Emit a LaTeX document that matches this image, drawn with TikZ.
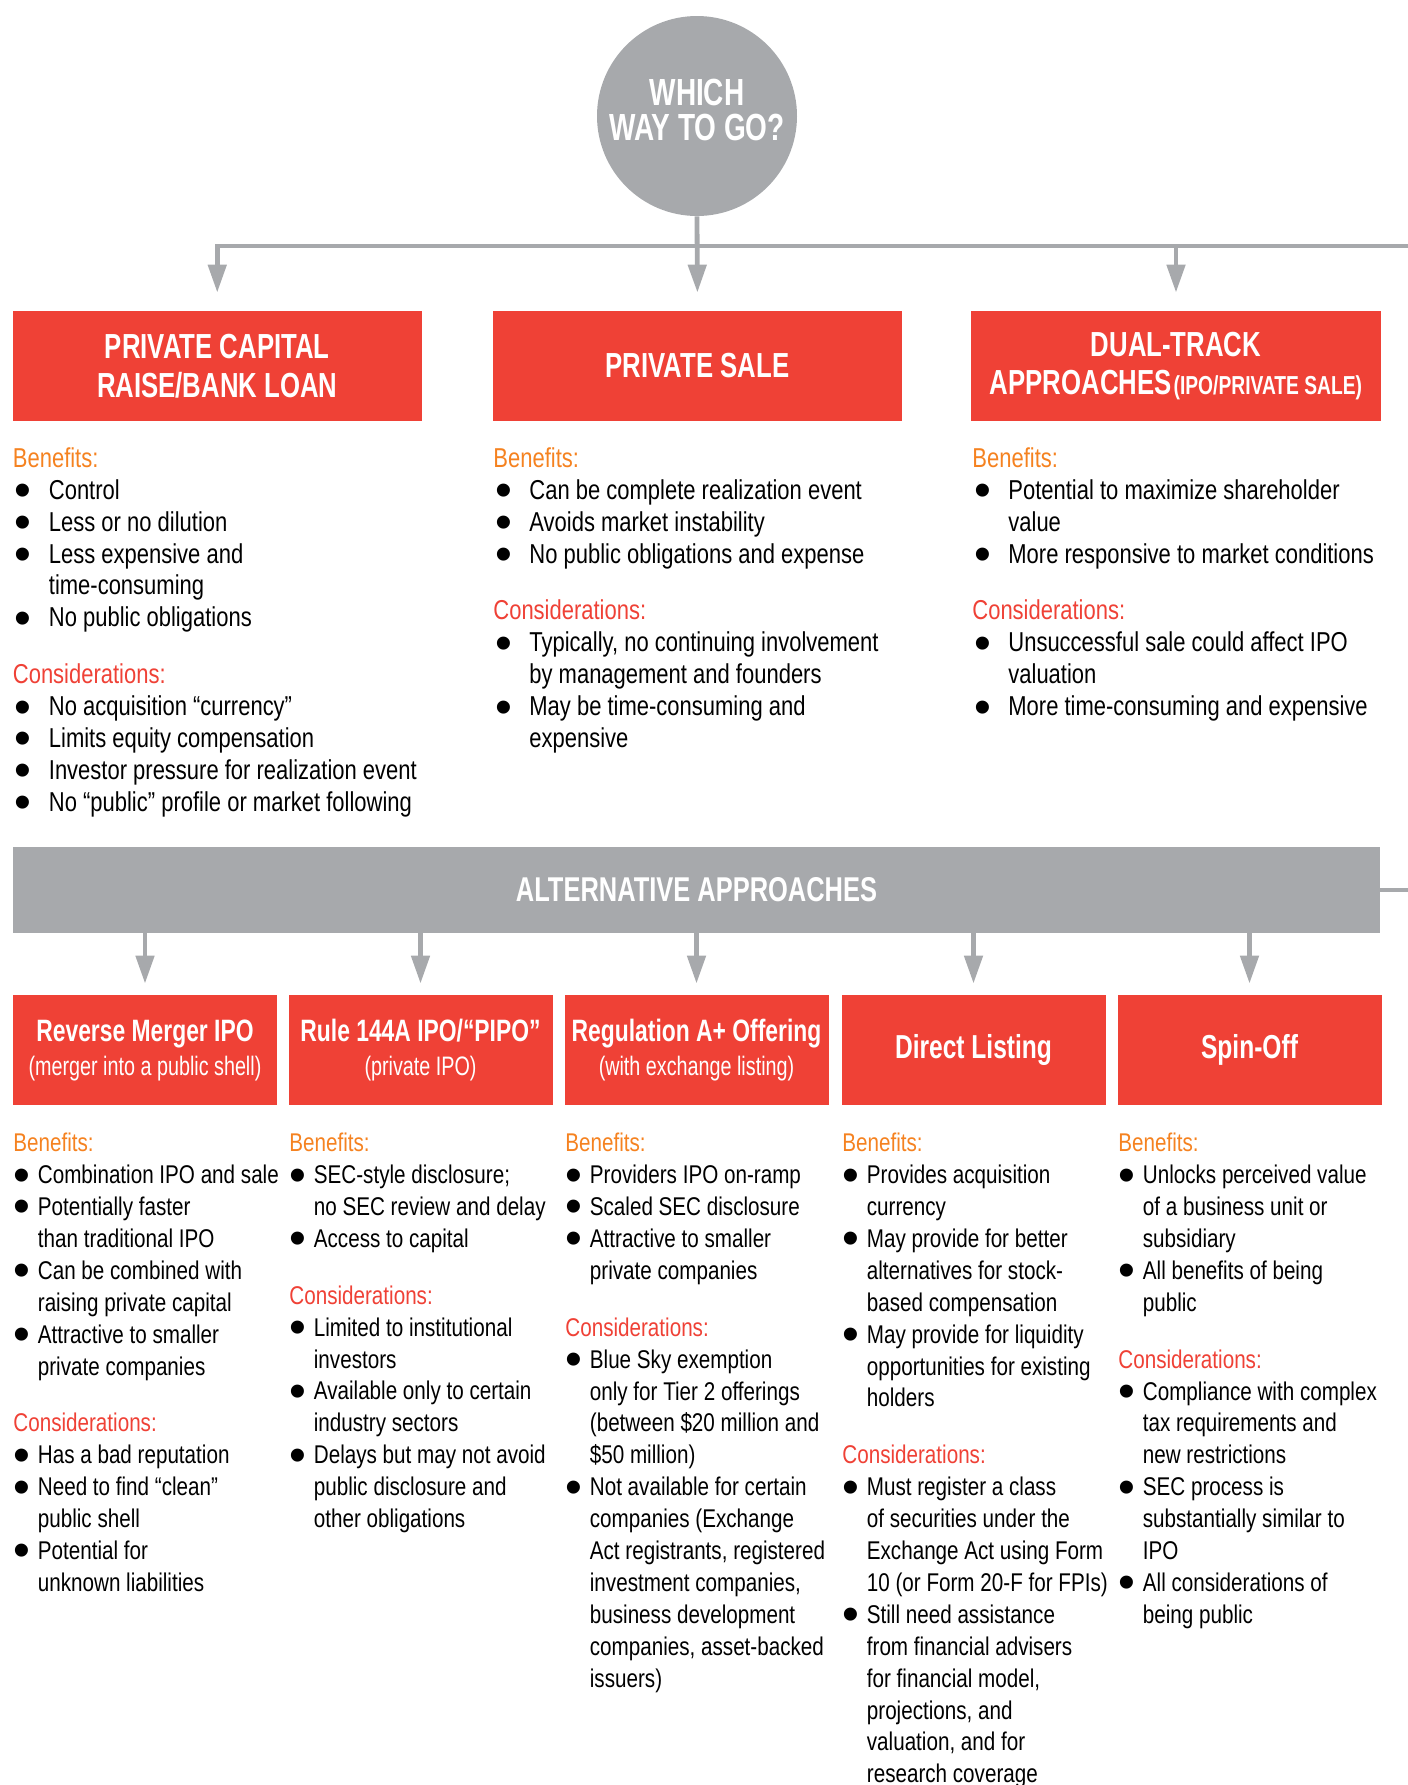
\documentclass[tikz,border=0pt]{standalone}
\usepackage{fontspec}
\setmainfont{Liberation Sans}[FakeStretch=0.805]
\newfontfamily\headfont{Liberation Sans}[FakeStretch=0.74]
\newfontfamily\bulfont{Liberation Sans}
\usetikzlibrary{arrows.meta}

\definecolor{boxred}{HTML}{EF4136}
\definecolor{bargray}{HTML}{A7A9AC}
\definecolor{benorange}{HTML}{F58220}

\newlength\indw
\newlength\bulsh
\newlength\secgap
\setlength\secgap{12.5pt}
\newcommand\dotb{{\bulfont\fontsize{24}{24}\selectfont\raisebox{-3.7pt}{\textbullet}}}
\newcommand\bl{\makebox[\indw][l]{\hspace*{\bulsh}\dotb}}
\newcommand\cn{\hspace*{\indw}}
\newcommand\bene{{\color{benorange}Benefits:}}
\newcommand\cons{{\color{boxred}Considerations:}}
\newcommand\subt[1]{{\mdseries\fontsize{13.35}{17}\selectfont #1}}

\tikzset{
  redbox/.style={fill=boxred, text=white, align=center, inner sep=0pt,
    font=\headfont\bfseries\fontsize{17.4}{19.2}\selectfont,
    minimum width=204.75pt, minimum height=55pt},
  altbox/.style={redbox, minimum width=132pt,
    font=\headfont\bfseries\fontsize{15.45}{17}\selectfont},
  altone/.style={altbox, font=\headfont\bfseries\fontsize{16.6}{17}\selectfont},
  colt/.style={anchor=north west, inner sep=0pt, align=left,
    font=\fontsize{13.66}{15.95}\selectfont,
    execute at begin node={\global\indw=18pt\global\bulsh=1pt\relax}},
  colb/.style={colt, font=\fontsize{12.82}{15.95}\selectfont,
    execute at begin node={\global\indw=12.25pt\global\bulsh=0pt\relax}},
  link/.style={draw=bargray, line width=2.4pt},
  arr/.style={link, -{Triangle[length=14pt,width=9pt]}}
}

\begin{document}
\begin{tikzpicture}[x=0.5pt,y=-0.5pt]
  \useasboundingbox (0,0) rectangle (1408,1785);

  % question and the three main routes
  \node[circle, fill=bargray, minimum size=100pt, inner sep=0pt, text=white,
    align=center, text depth=6.5pt, font=\headfont\bfseries\fontsize{18.9}{17.5}\selectfont]
    (q) at (697,116) {WHICH\\WAY TO GO?};
  \node[redbox] (pc) at (217.25,366) {PRIVATE CAPITAL\\RAISE/BANK LOAN};
  \node[redbox] (ps) at (697.5,366) {PRIVATE SALE};
  \node[redbox] (dt) at (1176,366) {DUAL-TRACK\\APPROACHES\kern1pt{\fontsize{13}{19.2}\selectfont(IPO/PRIVATE SALE)}};

  \coordinate (rail) at (0,246);
  \coordinate (railend) at (1408,246);
  \draw[arr, shorten >=9pt] (railend) -- (pc.north |- rail) -- (pc.north);
  \draw[arr, shorten >=9pt] (q.south) -- (ps.north);
  \draw[arr, shorten >=9pt] (dt.north |- rail) -- (dt.north);

  \node[colt] (pc-txt) at (12.5,447.1) {\bene\\
    \bl Control\\
    \bl Less or no dilution\\
    \bl Less expensive and\\
    \cn time-consuming\\
    \bl No public obligations\\[\secgap]
    \cons\\
    \bl No acquisition “currency”\\
    \bl Limits equity compensation\\
    \bl Investor pressure for realization event\\
    \bl No “public” profile or market following};
  \node[colt] (ps-txt) at (493,447.1) {\bene\\
    \bl Can be complete realization event\\
    \bl Avoids market instability\\
    \bl No public obligations and expense\\[\secgap]
    \cons\\
    \bl Typically, no continuing involvement\\
    \cn by management and founders\\
    \bl May be time-consuming and\\
    \cn expensive};
  \node[colt] (dt-txt) at (972,447.1) {\bene\\
    \bl Potential to maximize shareholder\\
    \cn value\\
    \bl More responsive to market conditions\\[\secgap]
    \cons\\
    \bl Unsuccessful sale could affect IPO\\
    \cn valuation\\
    \bl More time-consuming and expensive};

  % alternative approaches
  \node[fill=bargray, text=white, inner sep=0pt, minimum width=683.5pt,
    minimum height=43pt, font=\headfont\bfseries\fontsize{17.2}{20}\selectfont]
    (alt) at (696.5,890) {ALTERNATIVE APPROACHES};
  \coordinate (altend) at (1408,890);
  \draw[link] (alt.east) -- (altend);

  \node[altbox] (rm) at (145,1050) {Reverse Merger IPO\\\subt{(merger into a public shell)}};
  \node[altbox] (ru) at (420.5,1050) {Rule 144A IPO/“PIPO”\\\subt{(private IPO)}};
  \node[altbox] (ra) at (696.5,1050) {Regulation A+ Offering\\\subt{(with exchange listing)}};
  \node[altone] (dl) at (973.5,1050) {Direct Listing};
  \node[altone] (so) at (1249.5,1050) {Spin-Off};

  \foreach \b in {rm,ru,ra,dl,so}
    \draw[arr, shorten >=5.5pt] (alt.south -| \b.north) -- (\b.north);

  \node[colb] (rm-txt) at (13,1132.7) {\bene\\
    \bl Combination IPO and sale\\
    \bl Potentially faster\\
    \cn than traditional IPO\\
    \bl Can be combined with\\
    \cn raising private capital\\
    \bl Attractive to smaller\\
    \cn private companies\\[\secgap]
    \cons\\
    \bl Has a bad reputation\\
    \bl Need to find “clean”\\
    \cn public shell\\
    \bl Potential for\\
    \cn unknown liabilities};
  \node[colb] (ru-txt) at (289,1132.7) {\bene\\
    \bl SEC-style disclosure;\\
    \cn no SEC review and delay\\
    \bl Access to capital\\[\secgap]
    \cons\\
    \bl Limited to institutional\\
    \cn investors\\
    \bl Available only to certain\\
    \cn industry sectors\\
    \bl Delays but may not avoid\\
    \cn public disclosure and\\
    \cn other obligations};
  \node[colb] (ra-txt) at (565,1132.7) {\bene\\
    \bl Providers IPO on-ramp\\
    \bl Scaled SEC disclosure\\
    \bl Attractive to smaller\\
    \cn private companies\\[\secgap]
    \cons\\
    \bl Blue Sky exemption\\
    \cn only for Tier 2 offerings\\
    \cn (between \$20 million and\\
    \cn \$50 million)\\
    \bl Not available for certain\\
    \cn companies (Exchange\\
    \cn Act registrants, registered\\
    \cn investment companies,\\
    \cn business development\\
    \cn companies, asset-backed\\
    \cn issuers)};
  \node[colb] (dl-txt) at (842,1132.7) {\bene\\
    \bl Provides acquisition\\
    \cn currency\\
    \bl May provide for better\\
    \cn alternatives for stock-\\
    \cn based compensation\\
    \bl May provide for liquidity\\
    \cn opportunities for existing\\
    \cn holders\\[\secgap]
    \cons\\
    \bl Must register a class\\
    \cn of securities under the\\
    \cn Exchange Act using Form\\
    \cn 10 (or Form 20-F for FPIs)\\
    \bl Still need assistance\\
    \cn from financial advisers\\
    \cn for financial model,\\
    \cn projections, and\\
    \cn valuation, and for\\
    \cn research coverage};
  \node[colb] (so-txt) at (1118,1132.7) {\bene\\
    \bl Unlocks perceived value\\
    \cn of a business unit or\\
    \cn subsidiary\\
    \bl All benefits of being\\
    \cn public\\[\secgap]
    \cons\\
    \bl Compliance with complex\\
    \cn tax requirements and\\
    \cn new restrictions\\
    \bl SEC process is\\
    \cn substantially similar to\\
    \cn IPO\\
    \bl All considerations of\\
    \cn being public};
\end{tikzpicture}
\end{document}
